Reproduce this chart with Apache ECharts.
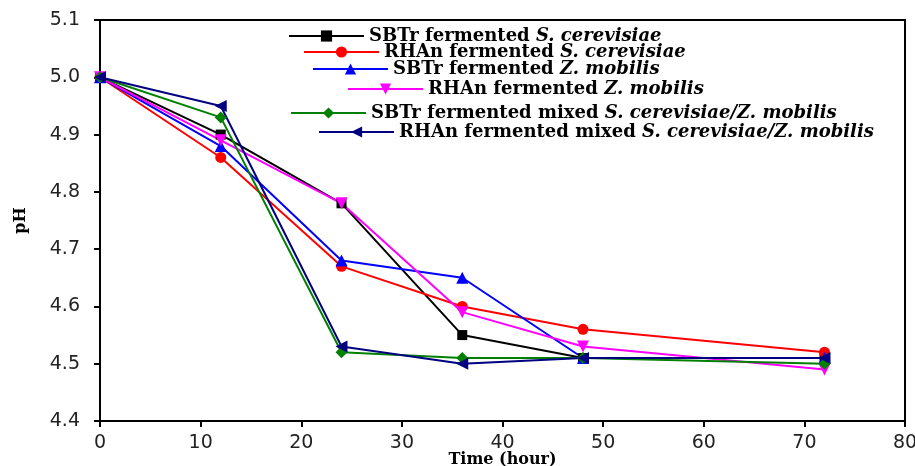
<!DOCTYPE html>
<html>
<head>
<meta charset="utf-8">
<script src="https://cdn.jsdelivr.net/npm/echarts@6/dist/echarts.min.js"></script>
<style>
  html, body { margin: 0; padding: 0; background: #fff; }
  #main-chart { width: 915px; height: 466px; }
</style>
</head>
<body>
<div id="main-chart"></div>
<script>
// ---- data ----
const hours = [0, 12, 24, 36, 48, 72];
const sbtrSc = [5.00, 4.90, 4.78, 4.55, 4.51, 4.51];
const rhanSc = [5.00, 4.86, 4.67, 4.60, 4.56, 4.52];
const sbtrZm = [5.00, 4.88, 4.68, 4.65, 4.51, 4.51];
const rhanZm = [5.00, 4.89, 4.78, 4.59, 4.53, 4.49];
const sbtrMix = [5.00, 4.93, 4.52, 4.51, 4.51, 4.50];
const rhanMix = [5.00, 4.95, 4.53, 4.50, 4.51, 4.51];

const seriesNames = [
    'SBTr fermented S. cerevisiae',
    'RHAn fermented S. cerevisiae',
    'SBTr fermented Z. mobilis',
    'RHAn fermented Z. mobilis',
    'SBTr fermented mixed S. cerevisiae/Z. mobilis',
    'RHAn fermented mixed S. cerevisiae/Z. mobilis'
];
const seriesData = [sbtrSc, rhanSc, sbtrZm, rhanZm, sbtrMix, rhanMix];
const colors = ['#000000', '#ff0000', '#0000ff', '#ff00ff', '#008000', '#000080'];
const symbols = ['rect', 'circle', 'triangle', 'triangle', 'diamond', 'triangle'];
const symbolRot = [0, 0, 0, 180, 0, 90];
const symbolSizes = [10, 11, 12, 12, 12, 12];

// legend rows (left of icon, top)
const legendPos = [
    { left: 288, top: 27 },
    { left: 303, top: 43 },
    { left: 312, top: 60 },
    { left: 347, top: 80 },
    { left: 290, top: 104 },
    { left: 318, top: 123 }
];

const serif = '"DejaVu Serif", "Times New Roman", serif';
const sans = '"DejaVu Sans", Arial, sans-serif';

// split "xxx fermented (mixed) " from species part for italic
function legendLabel(name) {
    const idx = name.search(/S\. |Z\. /);
    return '{b|' + name.slice(0, idx) + '}{i|' + name.slice(idx) + '}';
}

window.addEventListener('DOMContentLoaded', () => {
    const chart = echarts.init(document.getElementById('main-chart'));

    const legends = seriesNames.map((n, i) => ({
        left: legendPos[i].left,
        top: legendPos[i].top,
        data: [n],
        itemWidth: 75,
        itemHeight: 14,
        padding: 0,
        formatter: legendLabel,
        textStyle: {
            rich: {
                b: { fontFamily: serif, fontWeight: 'bold', fontSize: 18, color: '#000' },
                i: { fontFamily: serif, fontWeight: 'bold', fontStyle: 'italic', fontSize: 18, color: '#000' }
            }
        }
    }));

    chart.setOption({
        backgroundColor: '#fff',
        animation: false,
        legend: legends,
        grid: {
            left: 100, right: 10, top: 20, bottom: 45,
            outerBoundsMode: 'none', containLabel: false,
            show: true, borderColor: '#000', borderWidth: 2
        },
        xAxis: {
            type: 'value',
            min: 0, max: 80, interval: 10,
            name: 'Time (hour)',
            nameLocation: 'middle',
            nameGap: 31,
            nameMoveOverlap: false,
            nameTextStyle: { fontFamily: serif, fontWeight: 'bold', fontSize: 16, color: '#000' },
            axisLine: { lineStyle: { color: '#000', width: 2 } },
            axisTick: { length: 6, lineStyle: { color: '#000', width: 2 } },
            axisLabel: { fontFamily: sans, fontSize: 19, color: '#222', margin: 13 },
            splitLine: { show: false }
        },
        yAxis: {
            type: 'value',
            min: 4.4, max: 5.1, interval: 0.1,
            name: 'pH',
            nameLocation: 'middle',
            nameGap: 71,
            nameMoveOverlap: false,
            nameTextStyle: { fontFamily: serif, fontWeight: 'bold', fontSize: 16, color: '#000' },
            axisLine: { lineStyle: { color: '#000', width: 2 } },
            axisTick: { length: 6, lineStyle: { color: '#000', width: 2 } },
            axisLabel: { fontFamily: sans, fontSize: 19, color: '#222', margin: 20,
                formatter: v => v.toFixed(1) },
            splitLine: { show: false }
        },
        series: seriesNames.map((n, i) => ({
            name: n,
            type: 'line',
            data: hours.map((h, k) => [h, seriesData[i][k]]),
            symbol: symbols[i],
            symbolRotate: symbolRot[i],
            symbolSize: symbolSizes[i],
            showAllSymbol: true,
            lineStyle: { color: colors[i], width: 2 },
            itemStyle: { color: colors[i] }
        }))
    });
});
</script>
</body>
</html>
